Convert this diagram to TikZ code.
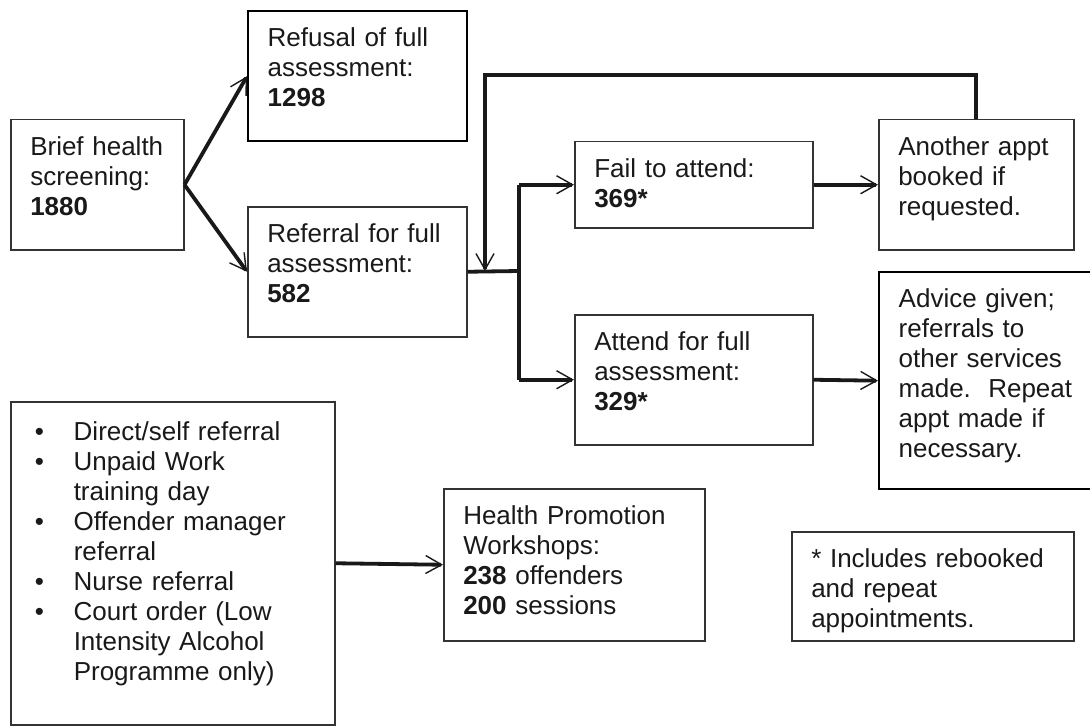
\documentclass[tikz,border=0pt]{standalone}
\usepackage{fontspec}
\setmainfont{Liberation Sans}
\usepackage{xcolor}
\usetikzlibrary{arrows.meta}

% one bullet line of the source box
\newcommand{\srcitem}[1]{\leavevmode\hangindent=19.5pt\hbox to 19.5pt{\textbullet\hfil}#1\par}

\begin{document}
\begin{tikzpicture}[x=0.5pt,y=-0.5pt,
  bx/.style={draw=black!80,line width=0.75pt,anchor=north west,align=left,inner xsep=9.75pt,inner ysep=8.5pt,
    text height=9.3pt,text=black!90,font=\fontsize{13}{15}\selectfont},
  heavy/.style={draw=black,line width=1.2pt},
  ln/.style={line width=1.9pt,black!90},
  ar/.style={ln,-{Straight Barb[length=8pt,width=9pt,line width=0.7pt]}}]
\useasboundingbox (0,0) rectangle (1090,727);
\clip (0,0) rectangle (1090,727);

\node[bx,text width=67pt,text depth=38.7pt]          (scr)  at (10,119)  {Brief health\\screening:\\\textbf{1880}};
\node[bx,heavy,text width=90pt,text depth=38.7pt]    (rfs)  at (247,10)  {Refusal of full\\assessment:\\\textbf{1298}};
\node[bx,text width=90pt,text depth=38.7pt]          (ref)  at (247,206) {Referral for full\\assessment:\\\textbf{582}};
\node[bx,text width=99.5pt,text depth=16.7pt]        (fail) at (574,141) {Fail to attend:\\\textbf{369*}};
\node[bx,text width=99.5pt,text depth=38.7pt]        (att)  at (574,314) {Attend for full\\assessment:\\\textbf{329*}};
\node[bx,text width=78pt,text depth=38.7pt]          (appt) at (878,119) {Another appt\\booked if\\requested.};
\node[bx,heavy,text width=91.5pt,text depth=82.2pt]  (adv)  at (878,271) {Advice given;\\referrals to\\other services\\made.\ \ Repeat\\appt made if\\necessary.};
\node[bx,inner xsep=12pt,text height=10.8pt,text width=138pt,text depth=133.7pt] (src) at (10,401) {%
  \srcitem{Direct/self referral}%
  \srcitem{Unpaid Work\newline training day}%
  \srcitem{Offender manager\newline referral}%
  \srcitem{Nurse referral}%
  \srcitem{Court order (Low\newline Intensity Alcohol\newline Programme only)}};
\node[bx,text width=111pt,text depth=49.7pt]         (hpw)  at (443,488) {Health Promotion\\Workshops:\\\textbf{238} offenders\\\textbf{200} sessions};
\node[bx,text width=121.5pt,text depth=28.2pt]       (note) at (791,531) {* Includes rebooked\\and repeat\\appointments.};

\coordinate (jn)   at (519,271);
\coordinate (back) at (485,271);

\draw[ar] (scr.east) -- (rfs.west);
\draw[ar] (scr.east) -- (ref.west);
\draw[ln] (ref.east) -- (jn);
\draw[ln] (jn |- fail.west) -- (jn |- att.west);
\draw[ar] (jn |- fail.west) -- (fail.west);
\draw[ar] (jn |- att.west) -- (att.west);
\draw[ar] (fail.east) -- (appt.west);
\draw[ar] (att.east) -- (adv.west);
\draw[ar] (appt.north) -- ++(0,-44) -| (back);
\draw[ar] (src.east) -- (hpw.west);
\end{tikzpicture}
\end{document}
